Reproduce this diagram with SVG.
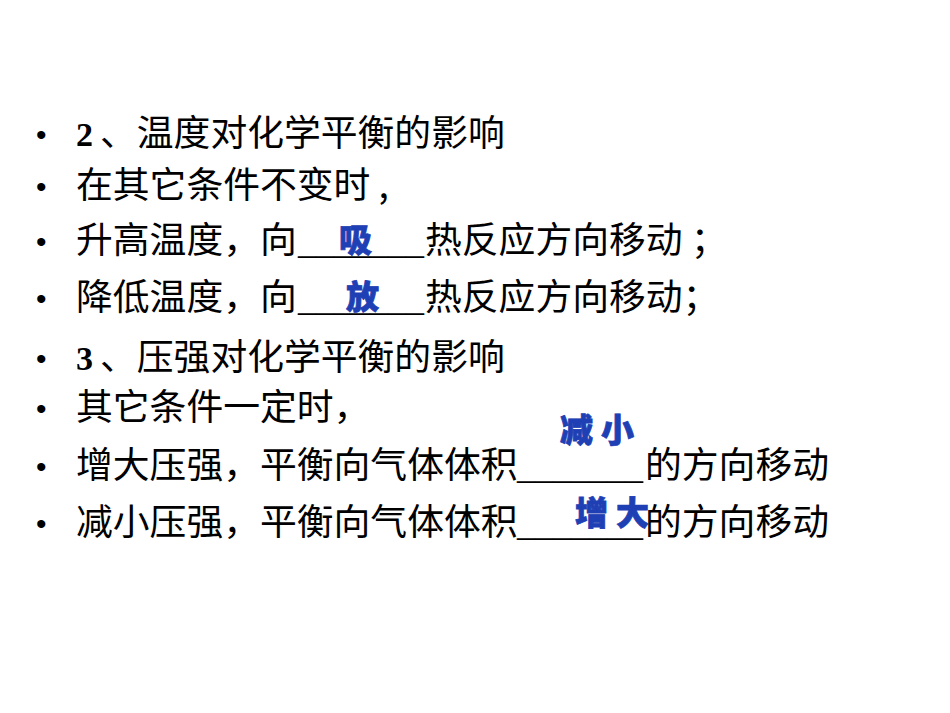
<svg xmlns="http://www.w3.org/2000/svg" width="950" height="713" viewBox="0 0 950 713">
<style>
.t{font-family:"Liberation Serif","Noto Sans CJK SC",serif;font-size:36px;fill:#000}
.c{font-family:"Noto Sans CJK SC",sans-serif;font-size:36.8px;fill:#000}
.b{font-family:"Liberation Sans",sans-serif;font-size:30px;fill:#000}
.n{font-family:"Liberation Serif",serif;font-size:34px;font-weight:bold}
.blue{font-family:"Noto Sans CJK SC",sans-serif;font-size:33px;font-weight:900;fill:#1e40b4;stroke:#1e40b4;stroke-width:0.8;letter-spacing:8px}
</style>
<rect width="950" height="713" fill="#fff"/>
<g id="bullets" class="b">
<text x="36" y="145">•</text><text x="36" y="197">•</text><text x="36" y="252">•</text><text x="36" y="309">•</text>
<text x="36" y="369">•</text><text x="36" y="419">•</text><text x="36" y="477">•</text><text x="36" y="534">•</text>
</g>
<g id="lines">
<text class="n" x="76" y="146">2</text><text class="c" x="100" y="146">、温度对化学平衡的影响</text>
<text class="c" x="76" y="198">在其它条件不变时 ,</text>
<text class="c" x="76" y="253">升高温度，向</text><text class="t" x="298" y="253">_______</text><text class="c" x="425" y="253">热反应方向移动  ；</text>
<text class="c" x="76" y="310">降低温度，向</text><text class="t" x="298" y="310">_______</text><text class="c" x="425" y="310">热反应方向移动；</text>
<text class="n" x="76" y="370">3</text><text class="c" x="100" y="370">、压强对化学平衡的影响</text>
<text class="c" x="76" y="420">其它条件一定时，</text>
<text class="c" x="76" y="478">增大压强，平衡向气体体积</text><text class="t" x="517" y="478">_______</text><text class="c" x="645" y="478">的方向移动</text>
<text class="c" x="76" y="535">减小压强，平衡向气体体积</text><text class="t" x="517" y="535">_______</text><text class="c" x="645" y="535">的方向移动</text>
</g>
<g id="answers" class="blue">
<text x="339" y="252">吸</text>
<text x="346" y="309">放</text>
<text x="560" y="442">减小</text>
<text x="575" y="525">增大</text>
</g>
</svg>
